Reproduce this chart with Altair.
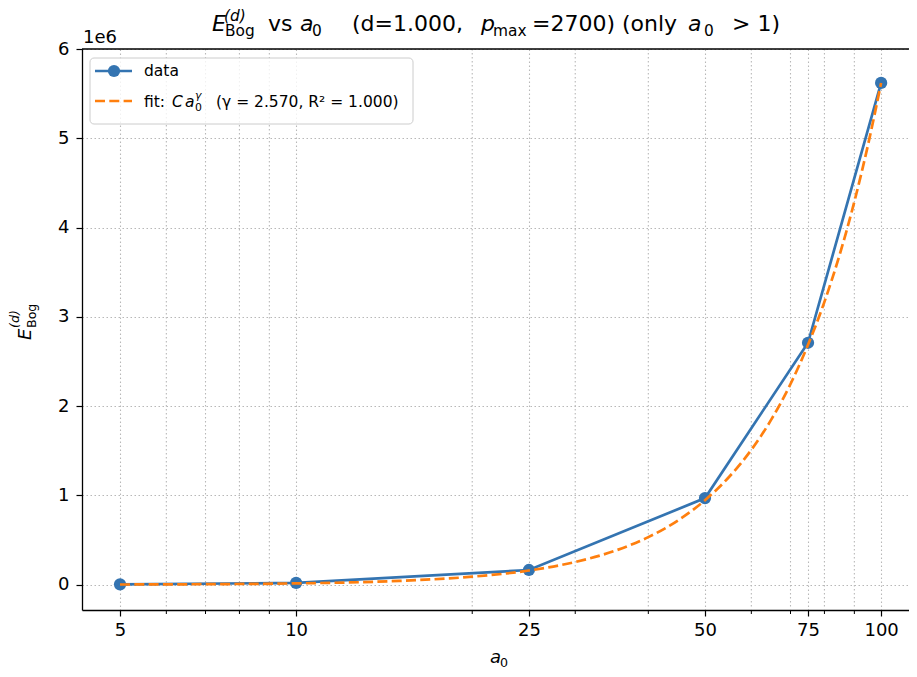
import altair as alt
import pandas as pd

# ---- data ----
a0_vals = [5, 10, 25, 50, 75, 100]
E_vals = [0.004e6, 0.02e6, 0.165e6, 0.97e6, 2.71e6, 5.62e6]

fit_a0 = [5, 7, 10, 15, 20, 25, 30, 35, 40, 45, 50, 55, 60, 65, 70, 75, 80, 85, 90, 95, 100]
fit_E = [0.0026e6, 0.006e6, 0.015e6, 0.043e6, 0.090e6, 0.159e6, 0.255e6, 0.378e6, 0.533e6,
         0.722e6, 0.947e6, 1.209e6, 1.511e6, 1.857e6, 2.248e6, 2.687e6, 3.168e6, 3.703e6,
         4.29e6, 4.93e6, 5.62e6]

major_x = [5, 10, 25, 50, 75, 100]
minor_x = [6, 7, 8, 9, 20, 30, 40, 60, 70, 80, 90]
y_ticks = [0, 1e6, 2e6, 3e6, 4e6, 5e6, 6e6]

W, H = 827, 561
BLUE = "#3474b1"
ORANGE = "#ff7f0e"
GRID = "#b8b8b8"
FONT = "DejaVu Sans"

xscale = alt.Scale(type="log", domain=[4.305, 111.6], nice=False, zero=False)
yscale = alt.Scale(domain=[-0.283e6, 6.0e6], nice=False, zero=False)

df_data = pd.DataFrame({"a0": a0_vals, "E": E_vals})
df_fit = pd.DataFrame({"a0": fit_a0, "E": fit_E})
df_minor = pd.DataFrame({"m": minor_x})

x_axis = alt.Axis(values=major_x, format="d", title=None, grid=True, gridDash=[1.5, 2.5],
                  gridColor=GRID, gridWidth=1.1, tickSize=6, tickWidth=1.2, tickColor="black",
                  domainColor="black", domainWidth=1.3, labelFontSize=18, labelFont=FONT,
                  labelColor="black", labelPadding=5, labelFlush=False)
y_axis = alt.Axis(values=y_ticks, labelExpr="format(datum.value/1000000, 'd')", title=None,
                  grid=True, gridDash=[1.5, 2.5], gridColor=GRID, gridWidth=1.1, tickSize=6,
                  tickWidth=1.2, tickColor="black", domainColor="black", domainWidth=1.3,
                  labelFontSize=18, labelFont=FONT, labelColor="black", labelPadding=7)

X = lambda f: alt.X(f, scale=xscale, axis=x_axis)
Y = lambda f: alt.Y(f, scale=yscale, axis=y_axis)

minor_grid = alt.Chart(df_minor).mark_rule(color=GRID, strokeDash=[1.5, 2.5], strokeWidth=1.1).encode(
    x=X("m:Q"), y=alt.value(0), y2=alt.value(H))
minor_ticks = alt.Chart(df_minor).mark_rule(color="black", strokeWidth=1).encode(
    x=X("m:Q"), y=alt.value(H), y2=alt.value(H + 4))

one = alt.Data(values=[{}])
top_spine = alt.Chart(one).mark_rule(color="black", strokeWidth=1.3).encode(
    x=alt.value(0), x2=alt.value(W), y=alt.value(0))

data_line = alt.Chart(df_data).mark_line(color=BLUE, strokeWidth=2.7).encode(
    x=X("a0:Q"), y=Y("E:Q"))
data_pts = alt.Chart(df_data).mark_point(filled=True, shape="circle", size=150, color=BLUE, opacity=1).encode(
    x=X("a0:Q"), y=Y("E:Q"))
fit_line = alt.Chart(df_fit).mark_line(color=ORANGE, strokeWidth=2.7, strokeDash=[10, 4.3],
                                       interpolate="monotone").encode(
    x=X("a0:Q"), y=Y("E:Q"))


def txt(s, x, y, size, italic=False, angle=None, baseline="alphabetic", align="left"):
    kw = dict(text=s, align=align, baseline=baseline, fontSize=size, font=FONT, color="black")
    if italic:
        kw["fontStyle"] = "italic"
    if angle is not None:
        kw["angle"] = angle
    return alt.Chart(one).mark_text(**kw).encode(x=alt.value(x), y=alt.value(y))


# legend
leg_box = alt.Chart(one).mark_rect(fill="white", fillOpacity=0.8, stroke="#cccccc", strokeWidth=1,
                                   cornerRadius=4).encode(
    x=alt.value(8), x2=alt.value(331), y=alt.value(9), y2=alt.value(75))
leg_l1 = alt.Chart(one).mark_rule(color=BLUE, strokeWidth=2.7).encode(
    x=alt.value(13), x2=alt.value(50), y=alt.value(22))
leg_p1 = alt.Chart(one).mark_point(filled=True, shape="circle", size=150, color=BLUE, opacity=1).encode(
    x=alt.value(32), y=alt.value(22))
leg_l2 = alt.Chart(one).mark_rule(color=ORANGE, strokeWidth=2.7, strokeDash=[10, 4.3]).encode(
    x=alt.value(13), x2=alt.value(50), y=alt.value(52))

legend = [
    leg_box, leg_l1, leg_p1, leg_l2,
    txt("data", 62, 22, 15.5, baseline="middle"),
    txt("fit:", 62, 57.5, 15.5),
    txt("C", 90, 57.5, 15.5, italic=True),
    txt("a", 103, 57.5, 15.5, italic=True),
    txt("0", 113, 61.5, 10.9),
    txt("γ", 113, 50, 10.9, italic=True),
    txt("(γ = 2.570, R² = 1.000)", 134, 57.5, 15.5),
]

title = [
    txt("E", 130, -18, 22, italic=True),
    txt("(d)", 142, -28, 15.4, italic=True),
    txt("Bog", 143, -13, 15.4),
    txt("vs", 186, -18, 22),
    txt("a", 218, -18, 22, italic=True),
    txt("0", 230, -13, 15.4),
    txt("(d=1.000,", 270, -18, 22),
    txt("p", 399, -18, 22, italic=True),
    txt("max", 411, -13, 15.4),
    txt("=2700) (only", 450, -18, 22),
    txt("a", 606, -18, 22, italic=True),
    txt("0", 622, -13, 15.4),
    txt("> 1)", 650, -18, 22),
]

axis_titles = [
    txt("a", 408, 614, 18, italic=True),
    txt("0", 418, 618, 12.6),
    txt("E", -51, 291, 18, italic=True, angle=270),
    txt("(d)", -63, 279, 12.6, italic=True, angle=270),
    txt("Bog", -46, 279, 12.6, angle=270),
    txt("1e6", 1, -6, 18),
]

chart = alt.layer(
    minor_grid, minor_ticks, data_line, data_pts, fit_line, top_spine,
    *legend, *title, *axis_titles
).properties(
    width=W, height=H,
    autosize=alt.AutoSizeParams(type="none"),
    padding={"left": 74, "top": 41, "right": 0, "bottom": 59},
).configure_view(stroke=None)

chart.save("out.html", embed_options={"renderer": "svg", "actions": False})
